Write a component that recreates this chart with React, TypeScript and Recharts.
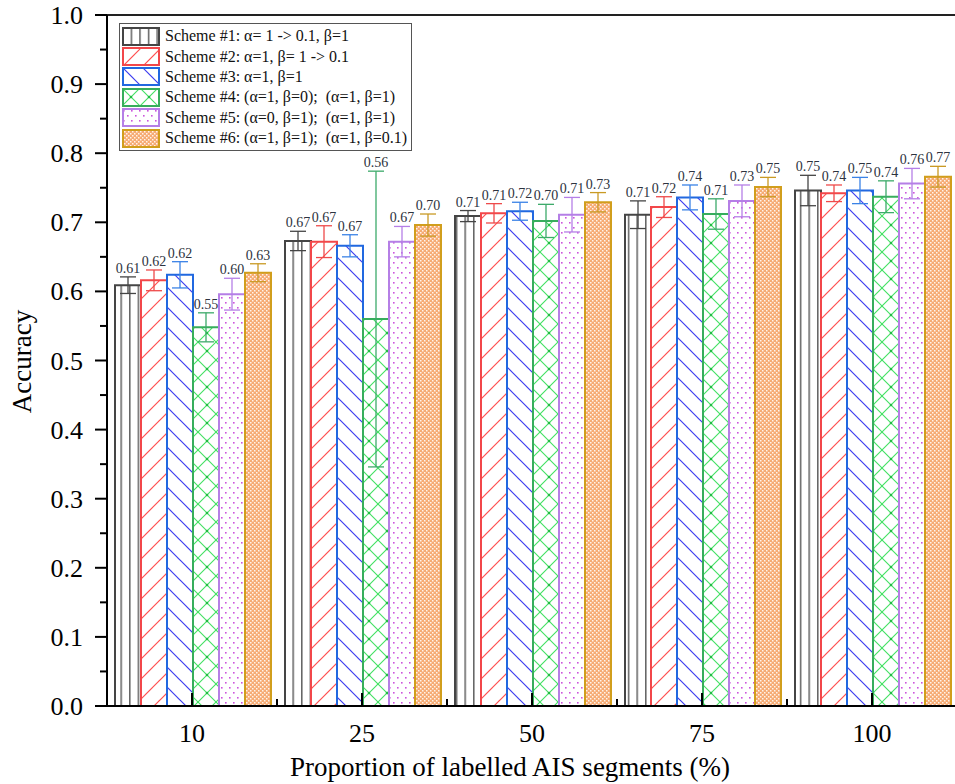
import { BarChart, Bar, XAxis, YAxis, ErrorBar, LabelList, Legend, ReferenceLine } from 'recharts'

const categories = ['10', '25', '50', '75', '100']

// mean accuracy per scheme
const scheme1 = [0.609, 0.673, 0.709, 0.711, 0.746]
const scheme2 = [0.616, 0.672, 0.713, 0.722, 0.742]
const scheme3 = [0.624, 0.666, 0.716, 0.736, 0.746]
const scheme4 = [0.548, 0.56, 0.702, 0.712, 0.737]
const scheme5 = [0.596, 0.672, 0.711, 0.731, 0.756]
const scheme6 = [0.627, 0.696, 0.729, 0.751, 0.766]

// std (error bars)
const err1 = [0.012, 0.014, 0.008, 0.02, 0.022]
const err2 = [0.015, 0.023, 0.014, 0.015, 0.012]
const err3 = [0.019, 0.016, 0.013, 0.018, 0.019]
const err4 = [0.021, 0.214, 0.024, 0.022, 0.023]
const err5 = [0.023, 0.022, 0.025, 0.023, 0.022]
const err6 = [0.013, 0.016, 0.014, 0.014, 0.015]

const yTicks = [0, 0.05, 0.1, 0.15, 0.2, 0.25, 0.3, 0.35, 0.4, 0.45, 0.5, 0.55, 0.6, 0.65, 0.7, 0.75, 0.8, 0.85, 0.9, 0.95, 1.0]

const schemeNames = [
  'Scheme #1: α= 1 -> 0.1, β=1',
  'Scheme #2: α=1, β= 1 -> 0.1',
  'Scheme #3: α=1, β=1',
  'Scheme #4: (α=1, β=0);  (α=1, β=1)',
  'Scheme #5: (α=0, β=1);  (α=1, β=1)',
  'Scheme #6: (α=1, β=1);  (α=1, β=0.1)',
]

const values = [scheme1, scheme2, scheme3, scheme4, scheme5, scheme6]
const errors = [err1, err2, err3, err4, err5, err6]

const series = [
  { stroke: '#454545', err: '#454545', fill: 'url(#pat1)' },
  { stroke: '#f2474a', err: '#ee4a4a', fill: 'url(#pat2)' },
  { stroke: '#2168e0', err: '#3a82e6', fill: 'url(#pat3)' },
  { stroke: '#37ad5c', err: '#3daa6a', fill: 'url(#pat4)' },
  { stroke: '#b57fe6', err: '#b57fe6', fill: 'url(#pat5)' },
  { stroke: '#d19e1c', err: '#c99a24', fill: 'url(#pat6)' },
]

const data = categories.map((c, i) => {
  const row: any = { cat: c }
  values.forEach((v, s) => {
    row['s' + (s + 1)] = v[i]
    row['e' + (s + 1)] = errors[s][i]
  })
  return row
})

const serif = '"Liberation Serif", "Times New Roman", serif'
const serifStyle = { fontFamily: serif }

function Patterns() {
  return (
    <svg width={0} height={0} style={{ position: 'absolute' }}>
      <defs>
        <pattern id="pat1" patternUnits="userSpaceOnUse" width={8.6} height={10}>
          <rect width={8.6} height={10} fill="#fff" />
          <line x1={0.8} y1={0} x2={0.8} y2={10} stroke="#555" strokeWidth={1.4} />
        </pattern>
        <pattern id="pat2" patternUnits="userSpaceOnUse" width={20} height={20}>
          <rect width={20} height={20} fill="#fff" />
          <line x1={-2} y1={22} x2={22} y2={-2} stroke="#ff4d4d" strokeWidth={1.2} />
          <line x1={-2} y1={2} x2={2} y2={-2} stroke="#ff4d4d" strokeWidth={1.2} />
          <line x1={18} y1={22} x2={22} y2={18} stroke="#ff4d4d" strokeWidth={1.2} />
        </pattern>
        <pattern id="pat3" patternUnits="userSpaceOnUse" width={20} height={20}>
          <rect width={20} height={20} fill="#fff" />
          <line x1={-2} y1={-2} x2={22} y2={22} stroke="#3c3cf0" strokeWidth={1.2} />
          <line x1={18} y1={-2} x2={22} y2={2} stroke="#3c3cf0" strokeWidth={1.2} />
          <line x1={-2} y1={18} x2={2} y2={22} stroke="#3c3cf0" strokeWidth={1.2} />
        </pattern>
        <pattern id="pat4" patternUnits="userSpaceOnUse" width={18} height={18}>
          <rect width={18} height={18} fill="#fff" />
          <line x1={-1} y1={-1} x2={19} y2={19} stroke="#3fe060" strokeWidth={1.1} />
          <line x1={-1} y1={19} x2={19} y2={-1} stroke="#3fe060" strokeWidth={1.1} />
          <circle cx={9} cy={9} r={1.3} fill="#22bb44" />
        </pattern>
        <pattern id="pat5" patternUnits="userSpaceOnUse" width={8} height={10}>
          <rect width={8} height={10} fill="#fff" />
          <rect x={1} y={2} width={1.6} height={1.6} fill="#cc55dd" />
          <rect x={5} y={7} width={1.6} height={1.6} fill="#cc55dd" />
        </pattern>
        <pattern id="pat6" patternUnits="userSpaceOnUse" width={4} height={4}>
          <rect width={4} height={4} fill="#f6ab74" />
          <rect x={0} y={0} width={1.5} height={1.5} fill="#fff4ea" />
          <rect x={2} y={2} width={1.5} height={1.5} fill="#fff4ea" />
        </pattern>
      </defs>
    </svg>
  )
}

const YTick = (props: any) => {
  const { x, y, payload } = props
  const v = Number(payload.value)
  const major = Math.round(v * 100) % 10 === 0
  return (
    <g>
      <line x1={x - (major ? 12 : 7)} x2={x} y1={y} y2={y} stroke="#000" strokeWidth={2} />
      {major && (
        <text x={x - 24} y={y} dy={9} textAnchor="end" fontSize={26} fontFamily={serif} style={serifStyle} fill="#000">
          {v.toFixed(1)}
        </text>
      )}
    </g>
  )
}

const XTick = (props: any) => {
  const { x, y, payload, width, visibleTicksCount } = props
  const half = width && visibleTicksCount ? width / visibleTicksCount / 2 : 85
  return (
    <g>
      <line x1={x} x2={x} y1={y} y2={y - 13} stroke="#000" strokeWidth={2} />
      <line x1={x + half} x2={x + half} y1={y} y2={y - 7} stroke="#000" strokeWidth={2} />
      <text x={x} y={y + 36} textAnchor="middle" fontSize={26} fontFamily={serif} style={serifStyle} fill="#000">
        {payload.value}
      </text>
    </g>
  )
}

const makeLabel = (errs: number[]) => (props: any) => {
  const { x, y, width, height, value, index } = props
  const v = Number(value)
  const k = Number(height) / v
  const ty = Number(y) - errs[index] * k - 4
  return (
    <text
      x={Number(x) + Number(width) / 2}
      y={ty}
      textAnchor="middle"
      fontSize={14}
      fontFamily={serif}
      style={serifStyle}
      fill="#2d3340"
    >
      {v.toFixed(2)}
    </text>
  )
}

function LegendBox() {
  return (
    <div
      style={{
        border: '1px solid #555',
        background: '#fff',
        padding: '2px 4px 2px 2px',
        fontFamily: serif,
        fontSize: 16,
        color: '#111',
      }}
    >
      {schemeNames.map((name, i) => (
        <div key={name} style={{ display: 'flex', alignItems: 'center', height: 20.4 }}>
          <svg width={38} height={19} style={{ marginRight: 5 }}>
            <rect x={1} y={1} width={36} height={17} fill={series[i].fill} stroke={series[i].stroke} strokeWidth={2} />
          </svg>
          <span style={{ whiteSpace: 'pre' }}>{name}</span>
        </div>
      ))}
    </div>
  )
}

export default function App() {
  return (
    <div style={{ position: 'absolute', left: 0, top: 0, width: 955, height: 784, overflow: 'hidden', background: '#fff' }}>
      <Patterns />
      <BarChart
        width={970}
        height={784}
        data={data}
        margin={{ top: 15, right: 13, left: 0, bottom: 0 }}
        barCategoryGap={8}
        barGap={0}
        style={serifStyle}
      >
        <XAxis
          dataKey="cat"
          height={78}
          axisLine={{ stroke: '#000', strokeWidth: 2 }}
          tickLine={false}
          tickSize={0}
          tickMargin={0}
          interval={0}
          tick={<XTick />}
          label={{
            content: (p: any) => {
              const vb = p.viewBox || { x: 107, y: 706 }
              return (
                <text x={vb.x + 403} y={vb.y + 70} textAnchor="middle" fontSize={27} fontFamily={serif} style={serifStyle} fill="#000">
                  Proportion of labelled AIS segments (%)
                </text>
              )
            },
          }}
        />
        <YAxis
          width={107}
          domain={[0, 1]}
          ticks={yTicks}
          interval={0}
          axisLine={{ stroke: '#000', strokeWidth: 2 }}
          tickLine={false}
          tickSize={0}
          tickMargin={0}
          tick={<YTick />}
          label={{
            content: (p: any) => {
              const vb = p.viewBox || { x: 0, y: 15, height: 691 }
              const cx = 31
              const cy = vb.y + vb.height / 2 + 1
              return (
                <text x={cx} y={cy} transform={`rotate(-90 ${cx} ${cy})`} textAnchor="middle" fontSize={27} fontFamily={serif} style={serifStyle} fill="#000">
                  Accuracy
                </text>
              )
            },
          }}
        />
        <ReferenceLine y={1} stroke="#222" strokeWidth={2} />
        {series.map((s, i) => (
          <Bar
            key={i}
            dataKey={'s' + (i + 1)}
            name={schemeNames[i]}
            fill={s.fill}
            stroke={s.stroke}
            strokeWidth={2}
            isAnimationActive={false}
          >
            <ErrorBar dataKey={'e' + (i + 1)} width={8} stroke={s.err} strokeWidth={1.3} direction="y" />
            <LabelList dataKey={'s' + (i + 1)} content={makeLabel(errors[i])} />
          </Bar>
        ))}
        <Legend
          layout="vertical"
          align="center"
          verticalAlign="middle"
          wrapperStyle={{ left: 119, top: 23, width: 'auto' }}
          content={() => <LegendBox />}
        />
      </BarChart>
    </div>
  )
}
